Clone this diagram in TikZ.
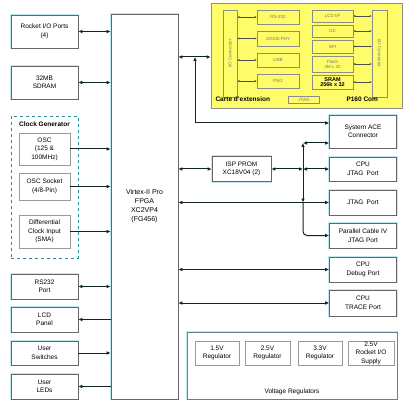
\documentclass[tikz,border=0pt]{standalone}
\usepackage{fontspec}
\setmainfont{Liberation Sans}
\usetikzlibrary{arrows.meta}
\definecolor{cardyellow}{RGB}{255,252,105}
\definecolor{halo}{RGB}{190,235,240}
\definecolor{teal2}{RGB}{40,140,150}
\definecolor{linec}{RGB}{15,35,40}

\begin{document}
\begin{tikzpicture}[x=1pt,y=-1pt,
    font=\fontsize{6.5}{8.5}\selectfont,
    blk/.style={draw=black!60,line width=0.6pt,preaction={draw=halo,line width=2.2pt},
      fill=white,align=center,inner sep=0pt,minimum width=#1},
    blk/.default=67,
    sub/.style={draw=black!40,line width=0.6pt,fill=white,align=center,inner sep=0pt,minimum width=51},
    ybox/.style={draw=black!45,line width=0.5pt,fill=cardyellow,align=center,inner sep=0pt,
      font=\fontsize{4.5}{5}\selectfont\color{black!55}},
    lnk/.style={draw=linec,line width=1pt},
    ar/.style={lnk,-{Latex[length=4pt,width=3.6pt]}},
    dar/.style={lnk,{Latex[length=4pt,width=3.6pt]}-{Latex[length=4pt,width=3.6pt]}},
    sar/.style={draw=black!70,line width=0.5pt,{Latex[length=2pt,width=2pt]}-{Latex[length=2pt,width=2pt]}}]
  \useasboundingbox[fill=white] (0,0) rectangle (406,403);

  % left column
  \node[blk,minimum height=33] (rio) at (44.5,31.5) {Rocket I/O Ports\\(4)};
  \node[blk,minimum height=33] (sdram) at (44.5,82.5) {32MB\\SDRAM};
  \node[draw=teal2,dashed,line width=0.9pt,minimum width=67,minimum height=142] (clkgen) at (44.5,187) {};
  \node[font=\fontsize{6.5}{8}\selectfont\bfseries] (clktitle) at (44.5,124.5) {Clock Generator};
  \node[sub,minimum height=32] (osc) at (44.5,149) {OSC\\(125 \&\\100MHz)};
  \node[sub,minimum height=27] (oscsock) at (44.5,186.5) {OSC Socket\\(4/8-Pin)};
  \node[sub,minimum height=33] (diffclk) at (44.5,231.5) {Differential\\Clock Input\\(SMA)};
  \node[blk,minimum height=25] (rs232) at (44.5,286.5) {RS232\\Port};
  \node[blk,minimum height=25] (lcd) at (44.5,319.5) {LCD\\Panel};
  \node[blk,minimum height=24] (switches) at (44.5,353) {User\\Switches};
  \node[blk,minimum height=25] (leds) at (44.5,386.5) {User\\LEDs};

  % FPGA
  \node[blk,minimum height=385,font=\fontsize{7}{9}\selectfont] (fpga) at (144.5,206.5)
    {Virtex-II Pro\\FPGA\\XC2VP4\\(FG456)};

  % extension card
  \node[draw=black!45,line width=0.6pt,fill=cardyellow,minimum width=191,minimum height=105] (card) at (306.5,55.5) {};
  \node[ybox,minimum width=14,minimum height=87] (iocl) at (230,53.5) {\rotatebox{90}{I/O Connector}};
  \node[ybox,minimum width=15,minimum height=87] (iocr) at (379.5,53.5) {\rotatebox{-90}{I/O Connector}};
  \node[ybox,minimum width=42,minimum height=14] (rsport) at (278,17) {RS-232};
  \node[ybox,minimum width=42,minimum height=15] (phy) at (278,38.5) {10/100 PHY};
  \node[ybox,minimum width=42,minimum height=14] (usb) at (278,60) {USB};
  \node[ybox,minimum width=42,minimum height=14] (ps2) at (278,81) {PS/2};
  \node[ybox,minimum width=41,minimum height=12] (lcdif) at (332.5,16) {LCD I/F};
  \node[ybox,minimum width=41,minimum height=12] (i2c) at (332.5,31) {I2C};
  \node[ybox,minimum width=41,minimum height=13] (spi) at (332.5,46.5) {SPI};
  \node[ybox,minimum width=41,minimum height=16] (flash) at (332.5,64) {Flash\\2M x 32};
  \node[ybox,minimum width=41,minimum height=14,font=\fontsize{5.5}{5.5}\selectfont\bfseries] (sram) at (332.5,82) {SRAM\\256k x 32};
  \node[ybox,minimum width=31,minimum height=7] (jtagc) at (304,99.5) {JTAG};
  \node[anchor=west,font=\fontsize{6.5}{8}\selectfont\bfseries] (cardname) at (212,99.5) {Carte d'extension};
  \node[anchor=west,font=\fontsize{6.5}{8}\selectfont\bfseries] (cardcom) at (343,99.5) {P160 Com};
  \foreach \b in {rsport,phy,usb,ps2}
    \draw[sar] (iocl.east |- \b.west) -- (\b.west);
  \foreach \b in {lcdif,i2c,spi,flash,sram}
    \draw[sar] (\b.east) -- (iocr.west |- \b.east);

  % right column
  \node[blk,minimum height=33] (sysace) at (363,131.5) {System ACE\\Connector};
  \node[blk,minimum height=24] (cpujtag) at (363,169) {CPU\\JTAG\enspace Port};
  \node[blk,minimum height=25] (jtag) at (363,202.5) {JTAG\enspace Port};
  \node[blk,minimum height=25] (pcable) at (363,235.5) {Parallel Cable IV\\JTAG Port};
  \node[blk,minimum height=25] (debug) at (363,269.5) {CPU\\Debug Port};
  \node[blk,minimum height=26] (trace) at (363,303) {CPU\\TRACE Port};
  \node[blk=59,minimum height=25] (isp) at (241.5,169) {ISP PROM\\XC18V04 (2)};

  % voltage regulators
  \node[draw=teal2!60!black!70,line width=0.8pt,preaction={draw=halo,line width=2.2pt},fill=white,
    minimum width=210,minimum height=67] (vreg) at (292,365.5) {};
  \node (vregname) at (292,392) {Voltage Regulators};
  \node[sub,minimum width=44,minimum height=24] (r15) at (217,353) {1.5V\\Regulator};
  \node[sub,minimum width=45,minimum height=24] (r25) at (267.5,353) {2.5V\\Regulator};
  \node[sub,minimum width=44,minimum height=24] (r33) at (320,353) {3.3V\\Regulator};
  \node[sub,minimum width=46,minimum height=24] (rio25) at (371,353) {2.5V\\Rocket I/O\\Supply};

  % left links
  \draw[dar] (rio.east) -- (rio.east -| fpga.west);
  \draw[dar] (sdram.east) -- (sdram.east -| fpga.west);
  \draw[ar] (osc.east) -- (osc.east -| fpga.west);
  \draw[ar] (oscsock.east) -- (oscsock.east -| fpga.west);
  \draw[ar] (diffclk.east) -- (diffclk.east -| fpga.west);
  \draw[dar] (rs232.east) -- (rs232.east -| fpga.west);
  \draw[ar] (lcd.east -| fpga.west) -- (lcd.east);
  \draw[ar] (switches.east) -- (switches.east -| fpga.west);
  \draw[ar] (leds.east -| fpga.west) -- (leds.east);

  % right links
  \coordinate (cbus) at (195,57);
  \coordinate (jbus) at (303,143);
  \draw[dar] (fpga.east |- cbus) -- (cbus -| card.west);
  \draw[dar] (cbus) |- ([yshift=8.5pt]sysace.west);
  \draw[dar] (jbus) -- (jbus -| sysace.west);
  \draw[dar] (fpga.east |- isp.west) -- (isp.west);
  \draw[dar] (isp.east) -- (isp.east -| jbus);
  \draw[dar] (isp.east -| jbus) -- (cpujtag.west);
  \draw[dar] (fpga.east |- jtag.west) -- (jtag.west);
  \draw[dar] (jbus) -- (jbus |- jtag.west);
  \draw[ar,rounded corners=4pt] (jbus |- jtag.west) |- (pcable.west);
  \draw[dar] (fpga.east |- debug.west) -- (debug.west);
  \draw[dar] (fpga.east |- trace.west) -- (trace.west);
\end{tikzpicture}
\end{document}
